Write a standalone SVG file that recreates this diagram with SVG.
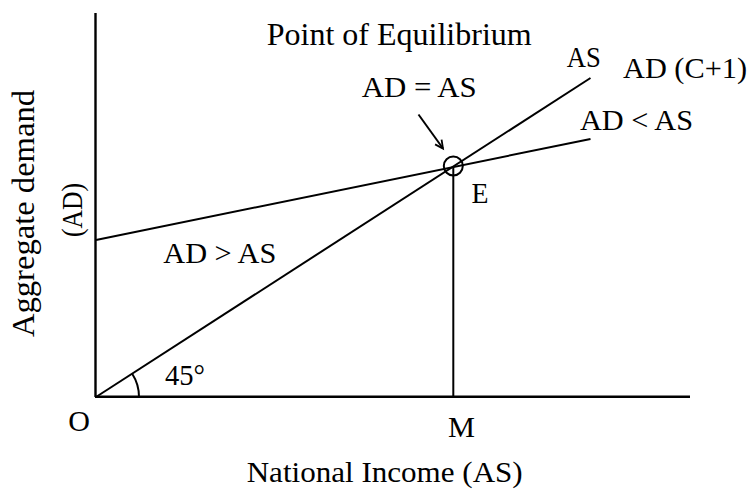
<svg xmlns="http://www.w3.org/2000/svg" width="751" height="489" viewBox="0 0 751 489">
<style>
.t{font-family:"Liberation Serif","Times New Roman",serif;font-size:30px;fill:#000}
.big{font-size:31px}
.ln{stroke:#000;stroke-width:2;fill:none}
.ax{stroke:#000;stroke-width:2.4;fill:none}
</style>
<defs>
<marker id="arr" markerWidth="12" markerHeight="12" refX="9" refY="5" orient="auto" markerUnits="userSpaceOnUse">
<path d="M1,1 L9,5 L1,9" fill="none" stroke="#000" stroke-width="1.8"/>
</marker>
</defs>
<rect width="751" height="489" fill="#fff"/>
<g id="connectors">
<line id="y-axis" class="ax" x1="95.5" y1="13" x2="95.5" y2="397"/>
<line id="x-axis" class="ax" x1="95" y1="396.8" x2="690" y2="396.8"/>
<line id="as-line" class="ln" x1="96" y1="397" x2="590.5" y2="78"/>
<line id="ad-line" class="ln" x1="96" y1="240" x2="590.5" y2="139"/>
<line id="em-line" class="ln" x1="453.3" y1="166" x2="453.3" y2="397"/>
<line id="eq-arrow" class="ln" x1="418.5" y1="114.5" x2="443" y2="148.5" marker-end="url(#arr)"/>
<path id="angle-arc" class="ln" d="M139,397 A43,43 0 0 0 132.2,373.7"/>
</g>
<g id="point-e">
<circle class="ln" cx="453.3" cy="166" r="9.5"/>
<text class="t" x="471.5" y="203.3" textLength="17" lengthAdjust="spacingAndGlyphs">E</text>
</g>
<g id="labels">
<text class="t big" x="266.7" y="45" textLength="265" lengthAdjust="spacingAndGlyphs">Point of Equilibrium</text>
<text class="t" x="361.7" y="96.7" textLength="115" lengthAdjust="spacingAndGlyphs">AD = AS</text>
<text class="t" x="566.7" y="66.7" textLength="34" lengthAdjust="spacingAndGlyphs">AS</text>
<text class="t" x="623" y="78.3" textLength="124" lengthAdjust="spacingAndGlyphs">AD (C+1)</text>
<text class="t" x="580" y="130" textLength="113" lengthAdjust="spacingAndGlyphs">AD &lt; AS</text>
<text class="t" x="163.3" y="263.3" textLength="113" lengthAdjust="spacingAndGlyphs">AD &gt; AS</text>
<text class="t" x="165" y="385" textLength="40" lengthAdjust="spacingAndGlyphs">45°</text>
<text class="t" x="68.3" y="430.7" textLength="21.7" lengthAdjust="spacingAndGlyphs">O</text>
<text class="t" x="448" y="437" textLength="27" lengthAdjust="spacingAndGlyphs">M</text>
<text class="t" x="246.7" y="481.7" textLength="276" lengthAdjust="spacingAndGlyphs">National Income (AS)</text>
<text class="t big" transform="translate(33.5,213.5) rotate(-90)" text-anchor="middle" textLength="247" lengthAdjust="spacingAndGlyphs">Aggregate demand</text>
<text class="t" transform="translate(82,210) rotate(-90)" text-anchor="middle" textLength="54" lengthAdjust="spacingAndGlyphs">(AD)</text>
</g>
</svg>
